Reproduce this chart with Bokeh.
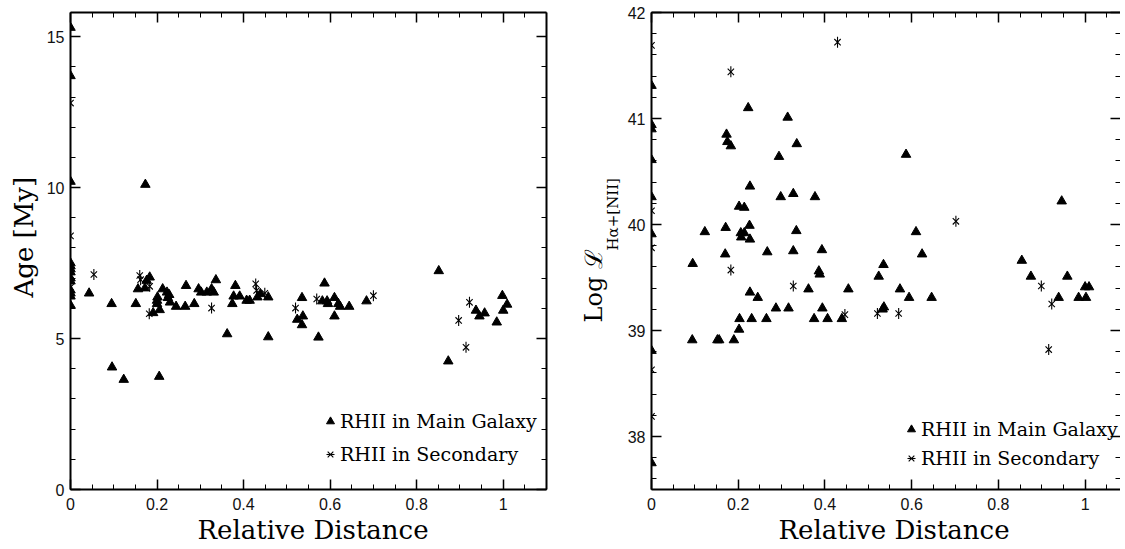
import numpy as np
from bokeh.plotting import figure
from bokeh.models import (LinearAxis, SingleIntervalTicker, CustomJSTickFormatter,
                          Legend, LegendItem, Title, Range1d)
from bokeh.layouts import row
from bokeh.embed import file_html
from bokeh.resources import INLINE

# ---------------- data ----------------
age_main_dist = [0, 0, 0, 0, 0, 0, 0, 0, 0, 0, 0, 0, 0,
                 0.043, 0.095, 0.096, 0.123, 0.151, 0.156, 0.172, 0.173, 0.176, 0.183,
                 0.191, 0.200, 0.200, 0.201, 0.206, 0.205, 0.213, 0.223, 0.225, 0.230,
                 0.228, 0.244, 0.265, 0.267, 0.286, 0.296, 0.302, 0.315, 0.326, 0.331,
                 0.336, 0.362, 0.374, 0.377, 0.381, 0.391, 0.407, 0.414, 0.432, 0.439,
                 0.457, 0.457, 0.524, 0.535, 0.537, 0.535, 0.573, 0.582, 0.587, 0.593,
                 0.595, 0.610, 0.610, 0.619, 0.623, 0.644, 0.684, 0.851, 0.873, 0.937,
                 0.945, 0.957, 0.985, 0.998, 1.000, 1.009]
age_main_val = [15.3, 13.7, 10.2, 7.5, 7.4, 7.3, 7.2, 7.0, 6.9, 6.6, 6.5, 6.4, 6.1,
                6.5, 6.15, 4.05, 3.64, 6.15, 6.64, 6.67, 10.1, 6.92, 7.03,
                5.85, 6.26, 6.15, 6.37, 5.95, 3.74, 6.64, 6.53, 6.35, 6.2,
                6.45, 6.06, 6.06, 6.75, 6.15, 6.64, 6.53, 6.53, 6.64, 6.53,
                6.94, 5.15, 6.15, 6.40, 6.75, 6.40, 6.26, 6.26, 6.37, 6.48,
                6.37, 5.05, 5.63, 6.35, 5.74, 5.45, 5.04, 6.24, 6.83, 6.24,
                6.15, 6.35, 5.74, 6.15, 6.06, 6.06, 6.24, 7.24, 4.25, 5.93,
                5.74, 5.84, 5.54, 6.42, 5.93, 6.13]
age_sec_dist = [0, 0, 0, 0, 0.054, 0.160, 0.162, 0.183, 0.182, 0.326, 0.428, 0.430,
                0.449, 0.520, 0.569, 0.700, 0.897, 0.914, 0.922]
age_sec_val = [12.8, 8.4, 7.1, 6.7, 7.12, 7.09, 6.95, 6.73, 5.82, 6.01, 6.81, 6.59,
               6.50, 6.01, 6.31, 6.42, 5.60, 4.71, 6.20]

lum_main_dist = [0, 0, 0, 0, 0, 0, 0, 0,
                 0.223, 0.314, 0.173, 0.175, 0.183, 0.335, 0.294, 0.587, 0.227, 0.298,
                 0.327, 0.377, 0.202, 0.214, 0.946, 0.226, 0.171, 0.123, 0.206, 0.214,
                 0.207, 0.227, 0.334, 0.610, 0.170, 0.267, 0.327, 0.393, 0.624, 0.095,
                 0.535, 0.854, 0.386, 0.388, 0.524, 0.875, 0.959, 0.227, 0.245, 0.362,
                 0.454, 0.573, 0.287, 0.316, 0.394, 0.536, 0.533, 0.594, 0.646, 0.939,
                 0.985, 1.002, 1.000, 1.009, 0.203, 0.231, 0.265, 0.375, 0.406, 0.439,
                 0.202, 0.094, 0.152, 0.156, 0.190]
lum_main_val = [41.31, 40.94, 40.90, 40.61, 40.26, 39.91, 38.81, 37.75,
                41.10, 41.01, 40.85, 40.78, 40.74, 40.76, 40.64, 40.66, 40.36, 40.26,
                40.29, 40.26, 40.17, 40.16, 40.22, 39.99, 39.97, 39.93, 39.92, 39.92,
                39.88, 39.86, 39.94, 39.93, 39.72, 39.74, 39.75, 39.76, 39.72, 39.63,
                39.62, 39.66, 39.56, 39.53, 39.51, 39.51, 39.51, 39.36, 39.31, 39.39,
                39.39, 39.39, 39.21, 39.21, 39.21, 39.22, 39.20, 39.31, 39.31, 39.31,
                39.31, 39.31, 39.41, 39.41, 39.11, 39.11, 39.11, 39.11, 39.11, 39.11,
                39.01, 38.91, 38.91, 38.91, 38.91]
lum_sec_dist = [0, 0, 0, 0, 0, 0.429, 0.183, 0.183, 0.702, 0.327, 0.446, 0.521,
                0.570, 0.899, 0.923, 0.916]
lum_sec_val = [41.69, 40.13, 39.78, 38.63, 38.19, 41.72, 41.44, 39.57, 40.03, 39.42,
               39.15, 39.16, 39.16, 39.42, 39.25, 38.82]

legend_labels = ["RHII in Main Galaxy", "RHII in Secondary"]
x_title = "Relative Distance"
age_title = "Age [My]"
lum_title_main = "Log ℒ"
lum_title_sub = "Hα+[NII]"

SERIF = "DejaVu Serif"
SANS = "Liberation Sans"


def style_axis(ax, labels=True):
    ax.major_tick_in = 10
    ax.major_tick_out = 0
    ax.minor_tick_in = 5
    ax.minor_tick_out = 0
    ax.axis_line_width = 2
    ax.axis_line_color = "black"
    ax.major_tick_line_color = "black"
    ax.major_tick_line_width = 1.5
    ax.minor_tick_line_color = "black"
    ax.minor_tick_line_width = 1
    if labels:
        ax.formatter = CustomJSTickFormatter(
            code="return Number(tick.toFixed(2)).toString();")
        ax.major_label_text_font = SANS
        ax.major_label_text_font_size = "16px"
        ax.major_label_text_color = "#111111"
    else:
        ax.formatter = CustomJSTickFormatter(code="return '';")
        ax.major_label_text_font_size = "0px"
        ax.major_label_standoff = 0


def make_fig(xend, y0, y1, yint, frame_w, mb_left, mb_right):
    p = figure(frame_width=frame_w, frame_height=477,
               x_range=Range1d(0, xend), y_range=Range1d(y0, y1),
               x_axis_type=None, y_axis_type=None,
               output_backend="svg", toolbar_location=None,
               min_border_left=mb_left, min_border_right=mb_right,
               min_border_top=12, min_border_bottom=56)
    p.outline_line_color = None
    p.background_fill_color = "white"
    p.border_fill_color = "white"
    xt = SingleIntervalTicker(interval=0.2, num_minor_ticks=4)
    yt = SingleIntervalTicker(interval=yint, num_minor_ticks=5)
    for loc, tk, lab in [("below", xt, True), ("above", xt, False),
                         ("left", yt, True), ("right", yt, False)]:
        ax = LinearAxis(ticker=tk)
        style_axis(ax, lab)
        if lab:
            ax.major_label_standoff = 8 if loc == "below" else 6
        p.add_layout(ax, loc)
    return p


def title(text, size, offset, standoff=0, valign="middle"):
    return Title(text=text, align="left", offset=offset, standoff=standoff,
                 vertical_align=valign, text_font=SERIF, text_font_size=size,
                 text_font_style="normal", text_color="black")


def add_points(p, xm, ym, xs, ys, loc, spacing):
    rt = p.scatter(xm, ym, marker="triangle", size=9.5, fill_color="black",
                   line_color="black")
    rx = p.scatter(xs, ys, marker="x", size=9, line_color="black", line_width=1.1)
    rd = p.scatter(xs, ys, marker="dash", size=11, angle=np.pi / 2,
                   line_color="black", line_width=1.1)
    leg = Legend(items=[LegendItem(label=legend_labels[0], renderers=[rt]),
                        LegendItem(label=legend_labels[1], renderers=[rx, rd])],
                 location=loc, orientation="vertical",
                 glyph_width=20, glyph_height=20, label_height=20,
                 label_standoff=0, spacing=spacing, padding=0, margin=0,
                 border_line_color=None, background_fill_alpha=0,
                 label_text_font=SERIF, label_text_font_size="19px",
                 label_text_color="black")
    p.add_layout(leg)
    p.add_layout(title(x_title, "26px", 127, 2), "below")


# ---------------- left panel ----------------
p1 = make_fig(1.1, 0, 15.8, 5, 476, 70, 18)
add_points(p1, age_main_dist, age_main_val, age_sec_dist, age_sec_val, (250, 24), 11)
p1.add_layout(title(age_title, "26px", 192, 8), "left")

# ---------------- right panel ----------------
p2 = make_fig(1.0816, 37.5, 42, 1, 469, 87, 0)
p2.right[0].axis_line_color = None
add_points(p2, lum_main_dist, lum_main_val, lum_sec_dist, lum_sec_val, (250, 20), 7)
p2.add_layout(title(lum_title_sub, "15px", 239, 4), "left")
p2.add_layout(title(lum_title_main, "24px", 167, -16), "left")

layout = row(p1, p2)
open("out.html", "w").write(file_html(layout, INLINE))
